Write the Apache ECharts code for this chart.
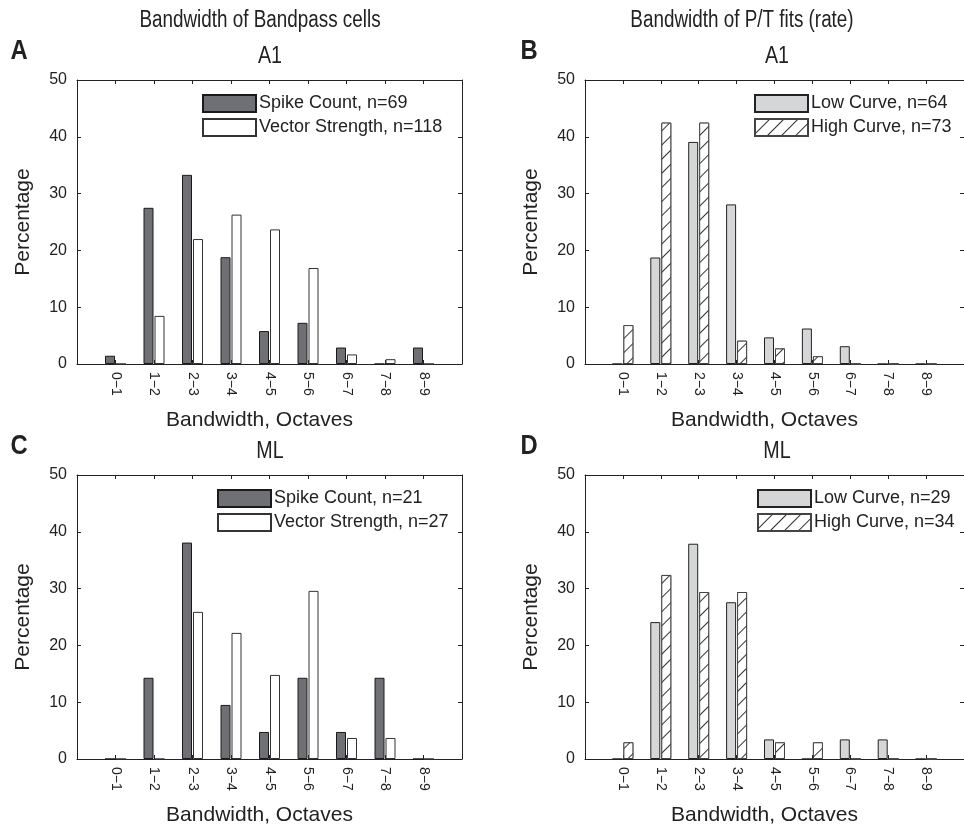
<!DOCTYPE html>
<html>
<head>
<meta charset="utf-8">
<script src="https://cdn.jsdelivr.net/npm/echarts@6/dist/echarts.min.js"></script>
<style>
html,body{margin:0;padding:0;background:#fff;}
#chart{width:964px;height:827px;}
</style>
</head>
<body>
<div id="chart"></div>
<script>
// ---- data ----
const categories = ['0\u22121','1\u22122','2\u22123','3\u22124','4\u22125','5\u22126','6\u22127','7\u22128','8\u22129'];
const yMin = 0, yMax = 50, yStep = 10;

// Panel A (A1, bandpass cells)
const aSpikeName = 'Spike Count, n=69';
const aSpike = [1.45, 27.5, 33.3, 18.8, 5.8, 7.25, 2.9, 0, 2.9];
const aVectorName = 'Vector Strength, n=118';
const aVector = [0, 8.47, 22.0, 26.3, 23.7, 16.9, 1.69, 0.85, 0];

// Panel B (A1, P/T fits)
const bLowName = 'Low Curve, n=64';
const bLow = [0, 18.75, 39.1, 28.1, 4.69, 6.25, 3.13, 0, 0];
const bHighName = 'High Curve, n=73';
const bHigh = [6.85, 42.5, 42.5, 4.11, 2.74, 1.37, 0, 0, 0];

// Panel C (ML, bandpass cells)
const cSpikeName = 'Spike Count, n=21';
const cSpike = [0, 14.3, 38.1, 9.52, 4.76, 14.3, 4.76, 14.3, 0];
const cVectorName = 'Vector Strength, n=27';
const cVector = [0, 0, 25.9, 22.2, 14.8, 29.6, 3.7, 3.7, 0];

// Panel D (ML, P/T fits)
const dLowName = 'Low Curve, n=29';
const dLow = [0, 24.1, 37.9, 27.6, 3.45, 0, 3.45, 3.45, 0];
const dHighName = 'High Curve, n=34';
const dHigh = [2.94, 32.4, 29.4, 29.4, 2.94, 2.94, 0, 0, 0];

// ---- styling ----
const FONT = '"Liberation Sans", Arial, Helvetica, sans-serif';
const INK = '#222';
const styles = {
  dark:  {color:'#6f7075', borderColor:'#1a1a1a', borderWidth:1},
  white: {color:'#ffffff', borderColor:'#333', borderWidth:1},
  light: {color:'#d5d6d8', borderColor:'#222', borderWidth:1},
  hatch: {color:'#ffffff', borderColor:'#444', borderWidth:1,
          decal:{symbol:'rect', symbolSize:1, color:'#333', backgroundColor:'#fff',
                 dashArrayX:[1,0], dashArrayY:[1,9], rotation:-Math.PI/4}}
};

const panels = [
  {left:77,  top:80,  s:[[aSpikeName,aSpike,'dark'],[aVectorName,aVector,'white']], leg:{left:202, top:94}},
  {left:585, top:80,  s:[[bLowName,bLow,'light'],[bHighName,bHigh,'hatch']], leg:{left:754, top:94}},
  {left:77,  top:475, s:[[cSpikeName,cSpike,'dark'],[cVectorName,cVector,'white']], leg:{left:217, top:489}},
  {left:585, top:475, s:[[dLowName,dLow,'light'],[dHighName,dHigh,'hatch']], leg:{left:757, top:489}}
];
const W = 385, H = 284;

const grid = [], xAxis = [], yAxis = [], series = [], legend = [];
panels.forEach((p, gi) => {
  grid.push({left:p.left, top:p.top, width:W, height:H, containLabel:false});
  const axLine = {show:true, onZero:false, lineStyle:{color:INK, width:1}};
  const tick = {show:true, inside:true, length:4, lineStyle:{color:INK}};
  // bottom x
  xAxis.push({gridIndex:gi, type:'value', min:0, max:categories.length+1, interval:1, position:'bottom',
    axisLine:axLine, axisTick:tick, splitLine:{show:false},
    axisLabel:{rotate:-90, margin:8, fontSize:14, color:INK, fontFamily:FONT,
      formatter:v => (v>=1 && v<=categories.length) ? categories[v-1] : ''},
    name:'Bandwidth, Octaves', nameLocation:'middle', nameGap:46,
    nameTextStyle:{fontSize:21, color:INK, fontFamily:FONT, padding:[0,20,0,0]}});
  // top x (box)
  xAxis.push({gridIndex:gi, type:'value', min:0, max:categories.length+1, interval:1, position:'top',
    axisLine:axLine, axisTick:tick, axisLabel:{show:false}, splitLine:{show:false}});
  // left y
  yAxis.push({gridIndex:gi, type:'value', min:yMin, max:yMax, interval:yStep, position:'left',
    axisLine:axLine, axisTick:tick, splitLine:{show:false},
    axisLabel:{margin:10, fontSize:16, color:INK, fontFamily:FONT},
    name:'Percentage', nameLocation:'middle', nameGap:43,
    nameTextStyle:{fontSize:21, color:INK, fontFamily:FONT}});
  // right y (box)
  yAxis.push({gridIndex:gi, type:'value', min:yMin, max:yMax, interval:yStep, position:'right',
    axisLine:axLine, axisTick:tick, axisLabel:{show:false}, splitLine:{show:false}});

  const names = [];
  p.s.forEach(([name, vals, st]) => {
    names.push(name);
    series.push({type:'bar', name:name, xAxisIndex:gi*2, yAxisIndex:gi*2,
      data: vals.map((v,i)=>[i+1, v]),
      barWidth:10, barGap:'10%',
      itemStyle:styles[st], emphasis:{disabled:true}, silent:true, animation:false});
  });
  legend.push({data:names, orient:'vertical', left:p.leg.left, top:p.leg.top, padding:0,
    itemWidth:53, itemHeight:17, itemGap:5, icon:'rect', selectedMode:false,
    textStyle:{fontSize:18, color:INK, fontFamily:FONT, padding:[0,0,0,-2]}});
});

function txt(x, y, text, size, weight, sx){
  return {type:'text', x:x, y:y, scaleX:sx||0.82, silent:true,
    style:{text:text, x:0, y:0, fontSize:size, fontWeight:weight||'normal', fontFamily:FONT, fill:INK,
           align:'center', verticalAlign:'middle'}};
}
const graphic = [
  txt(260, 21, 'Bandwidth of Bandpass cells', 23),
  txt(742, 21, 'Bandwidth of P/T fits (rate)', 23),
  txt(270, 56, 'A1', 24),
  txt(777, 56, 'A1', 24),
  txt(270, 451, 'ML', 24),
  txt(777, 451, 'ML', 24),
  txt(19, 51, 'A', 28, 'bold', 0.85),
  txt(529, 51, 'B', 28, 'bold', 0.85),
  txt(19, 446, 'C', 28, 'bold', 0.85),
  txt(529, 446, 'D', 28, 'bold', 0.85)
];

const chart = echarts.init(document.getElementById('chart'), null, {renderer:'canvas'});
chart.setOption({animation:false, backgroundColor:'#fff', grid, xAxis, yAxis, series, legend, graphic});
</script>
</body>
</html>
